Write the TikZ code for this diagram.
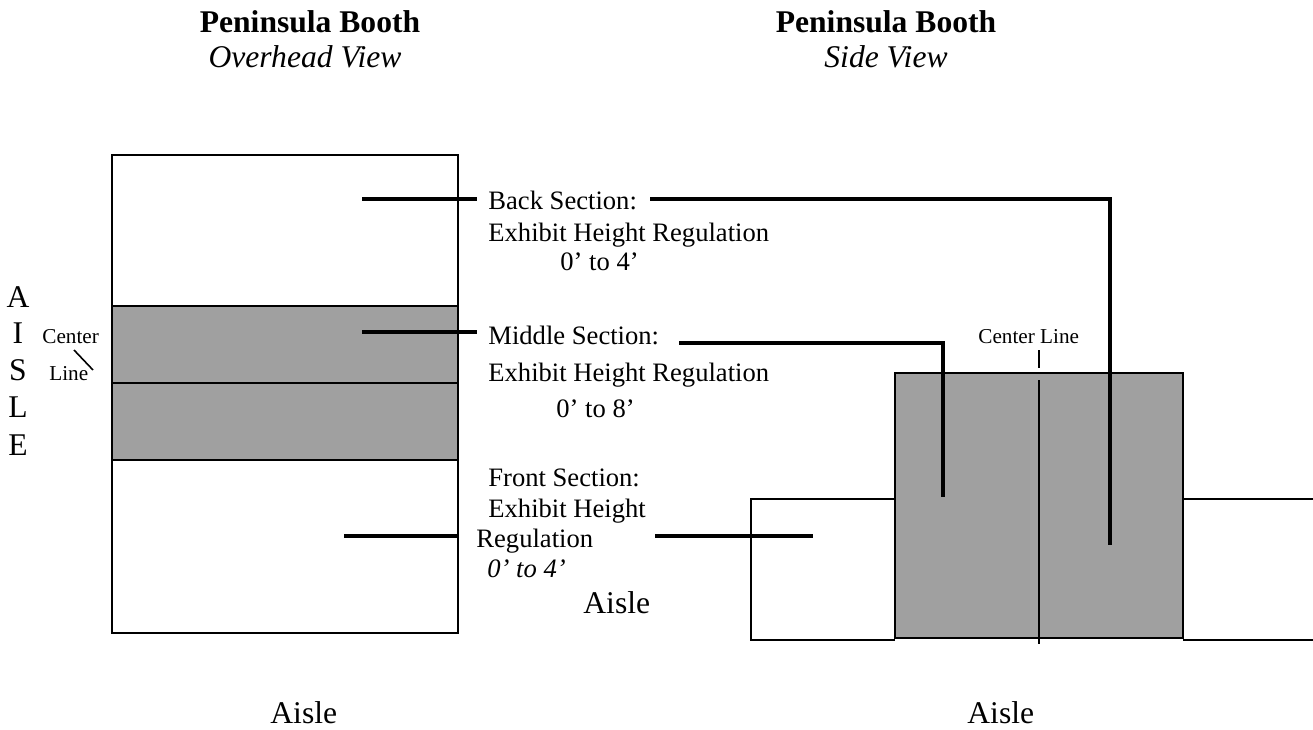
\documentclass[tikz,border=0pt]{standalone}
\usepackage{fontspec}
\setmainfont{Liberation Serif}
\usetikzlibrary{positioning}
\definecolor{boothgray}{RGB}{160, 160, 160}

\begin{document}
\begin{tikzpicture}[
  x=0.5pt, y=-0.5pt,
  txt/.style={anchor=base west, inner sep=0pt, font=\fontsize{13.3}{16}\selectfont},
  big/.style={anchor=base, inner sep=0pt, font=\fontsize{15.8}{19}\selectfont},
  small/.style={anchor=base west, inner sep=0pt, font=\fontsize{10.6}{13}\selectfont},
  wall/.style={draw, line width=1pt},
  lead/.style={line width=2.3pt}
]
  \useasboundingbox (0, 0) rectangle (1313, 729);

  % titles
  \node[big, font=\fontsize{15.8}{19}\selectfont\bfseries] (t1) at (310, 32) {Peninsula Booth};
  \node[big, font=\fontsize{15.8}{19}\selectfont\itshape] (t1v) at (305, 67) {Overhead View};
  \node[big, font=\fontsize{15.8}{19}\selectfont\bfseries] (t2) at (886, 32) {Peninsula Booth};
  \node[big, font=\fontsize{15.8}{19}\selectfont\itshape] (t2v) at (886, 67) {Side View};

  % overhead view
  \fill[boothgray] (112, 306) rectangle (458, 460);
  \draw[wall] (112, 155) rectangle (458, 633);
  \draw[wall] (112, 306) -- (458, 306);
  \draw[wall] (112, 383) -- (458, 383);
  \draw[wall] (112, 460) -- (458, 460);

  % aisle letters
  \foreach \ch/\yb in {A/307, I/343, S/380, L/417, E/455}
    \node[big] at (18, \yb) {\ch};
  \node[small] (cl1) at (42, 343) {Center};
  \node[small] (cl2) at (49, 380) {Line};
  \coordinate (d1) at (74, 350);
  \coordinate (d2) at (93, 370);
  \draw[line width=0.8pt] (d1) -- (d2);

  % section labels
  \node[txt] (back) at (488, 209) {Back Section:};
  \node[txt] (backb) at (488, 241) {Exhibit Height Regulation};
  \node[txt] (backc) at (560, 270) {0’ to 4’};
  \node[txt] (mid) at (488, 344) {Middle Section:};
  \node[txt] (midb) at (488, 381) {Exhibit Height Regulation};
  \node[txt] (midc) at (556, 417) {0’ to 8’};
  \node[txt] (front) at (488, 486) {Front Section:};
  \node[txt] (frontb) at (488, 517) {Exhibit Height};
  \node[txt] (frontc) at (476, 547) {Regulation};
  \node[txt, font=\fontsize{13.3}{16}\selectfont\itshape] (frontd) at (487, 577) {0’ to 4’};
  \node[big, anchor=base west] (aisle1) at (583, 613) {Aisle};

  % side view
  \fill[boothgray] (895, 373) rectangle (1183, 638);
  \draw[wall] (895, 638) -- (895, 373) -- (1183, 373) -- (1183, 638) -- cycle;
  \draw[wall] (895, 499) -- (751, 499) -- (751, 640) -- (895, 640);
  \draw[wall] (1183, 499) -- (1313, 499);
  \draw[wall] (1183, 640) -- (1313, 640);
  \node[small] (cl3) at (978, 343) {Center Line};
  \draw[line width=0.8pt] (1039, 350) -- (1039, 368);
  \draw[line width=0.8pt] (1039, 380) -- (1039, 644);

  % leader lines
  \coordinate (b1) at (362, 199);
  \coordinate (b2) at (477, 199);
  \coordinate (b3) at (650, 199);
  \coordinate (b4) at (1110, 199);
  \coordinate (b5) at (1110, 545);
  \draw[lead] (b1) -- (b2);
  \draw[lead] (b3) -- (b4) -- (b5);
  \coordinate (m1) at (362, 332);
  \coordinate (m2) at (477, 332);
  \coordinate (m3) at (679, 343);
  \coordinate (m4) at (943, 343);
  \coordinate (m5) at (943, 497);
  \draw[lead] (m1) -- (m2);
  \draw[lead] (m3) -- (m4) -- (m5);
  \coordinate (f1) at (344, 536);
  \coordinate (f2) at (458, 536);
  \coordinate (f3) at (655, 536);
  \coordinate (f4) at (813, 536);
  \draw[lead] (f1) -- (f2);
  \draw[lead] (f3) -- (f4);

  % bottom aisles
  \node[big, anchor=base west] (aisle2) at (270, 723) {Aisle};
  \node[big, anchor=base west] (aisle3) at (967, 723) {Aisle};
\end{tikzpicture}
\end{document}
